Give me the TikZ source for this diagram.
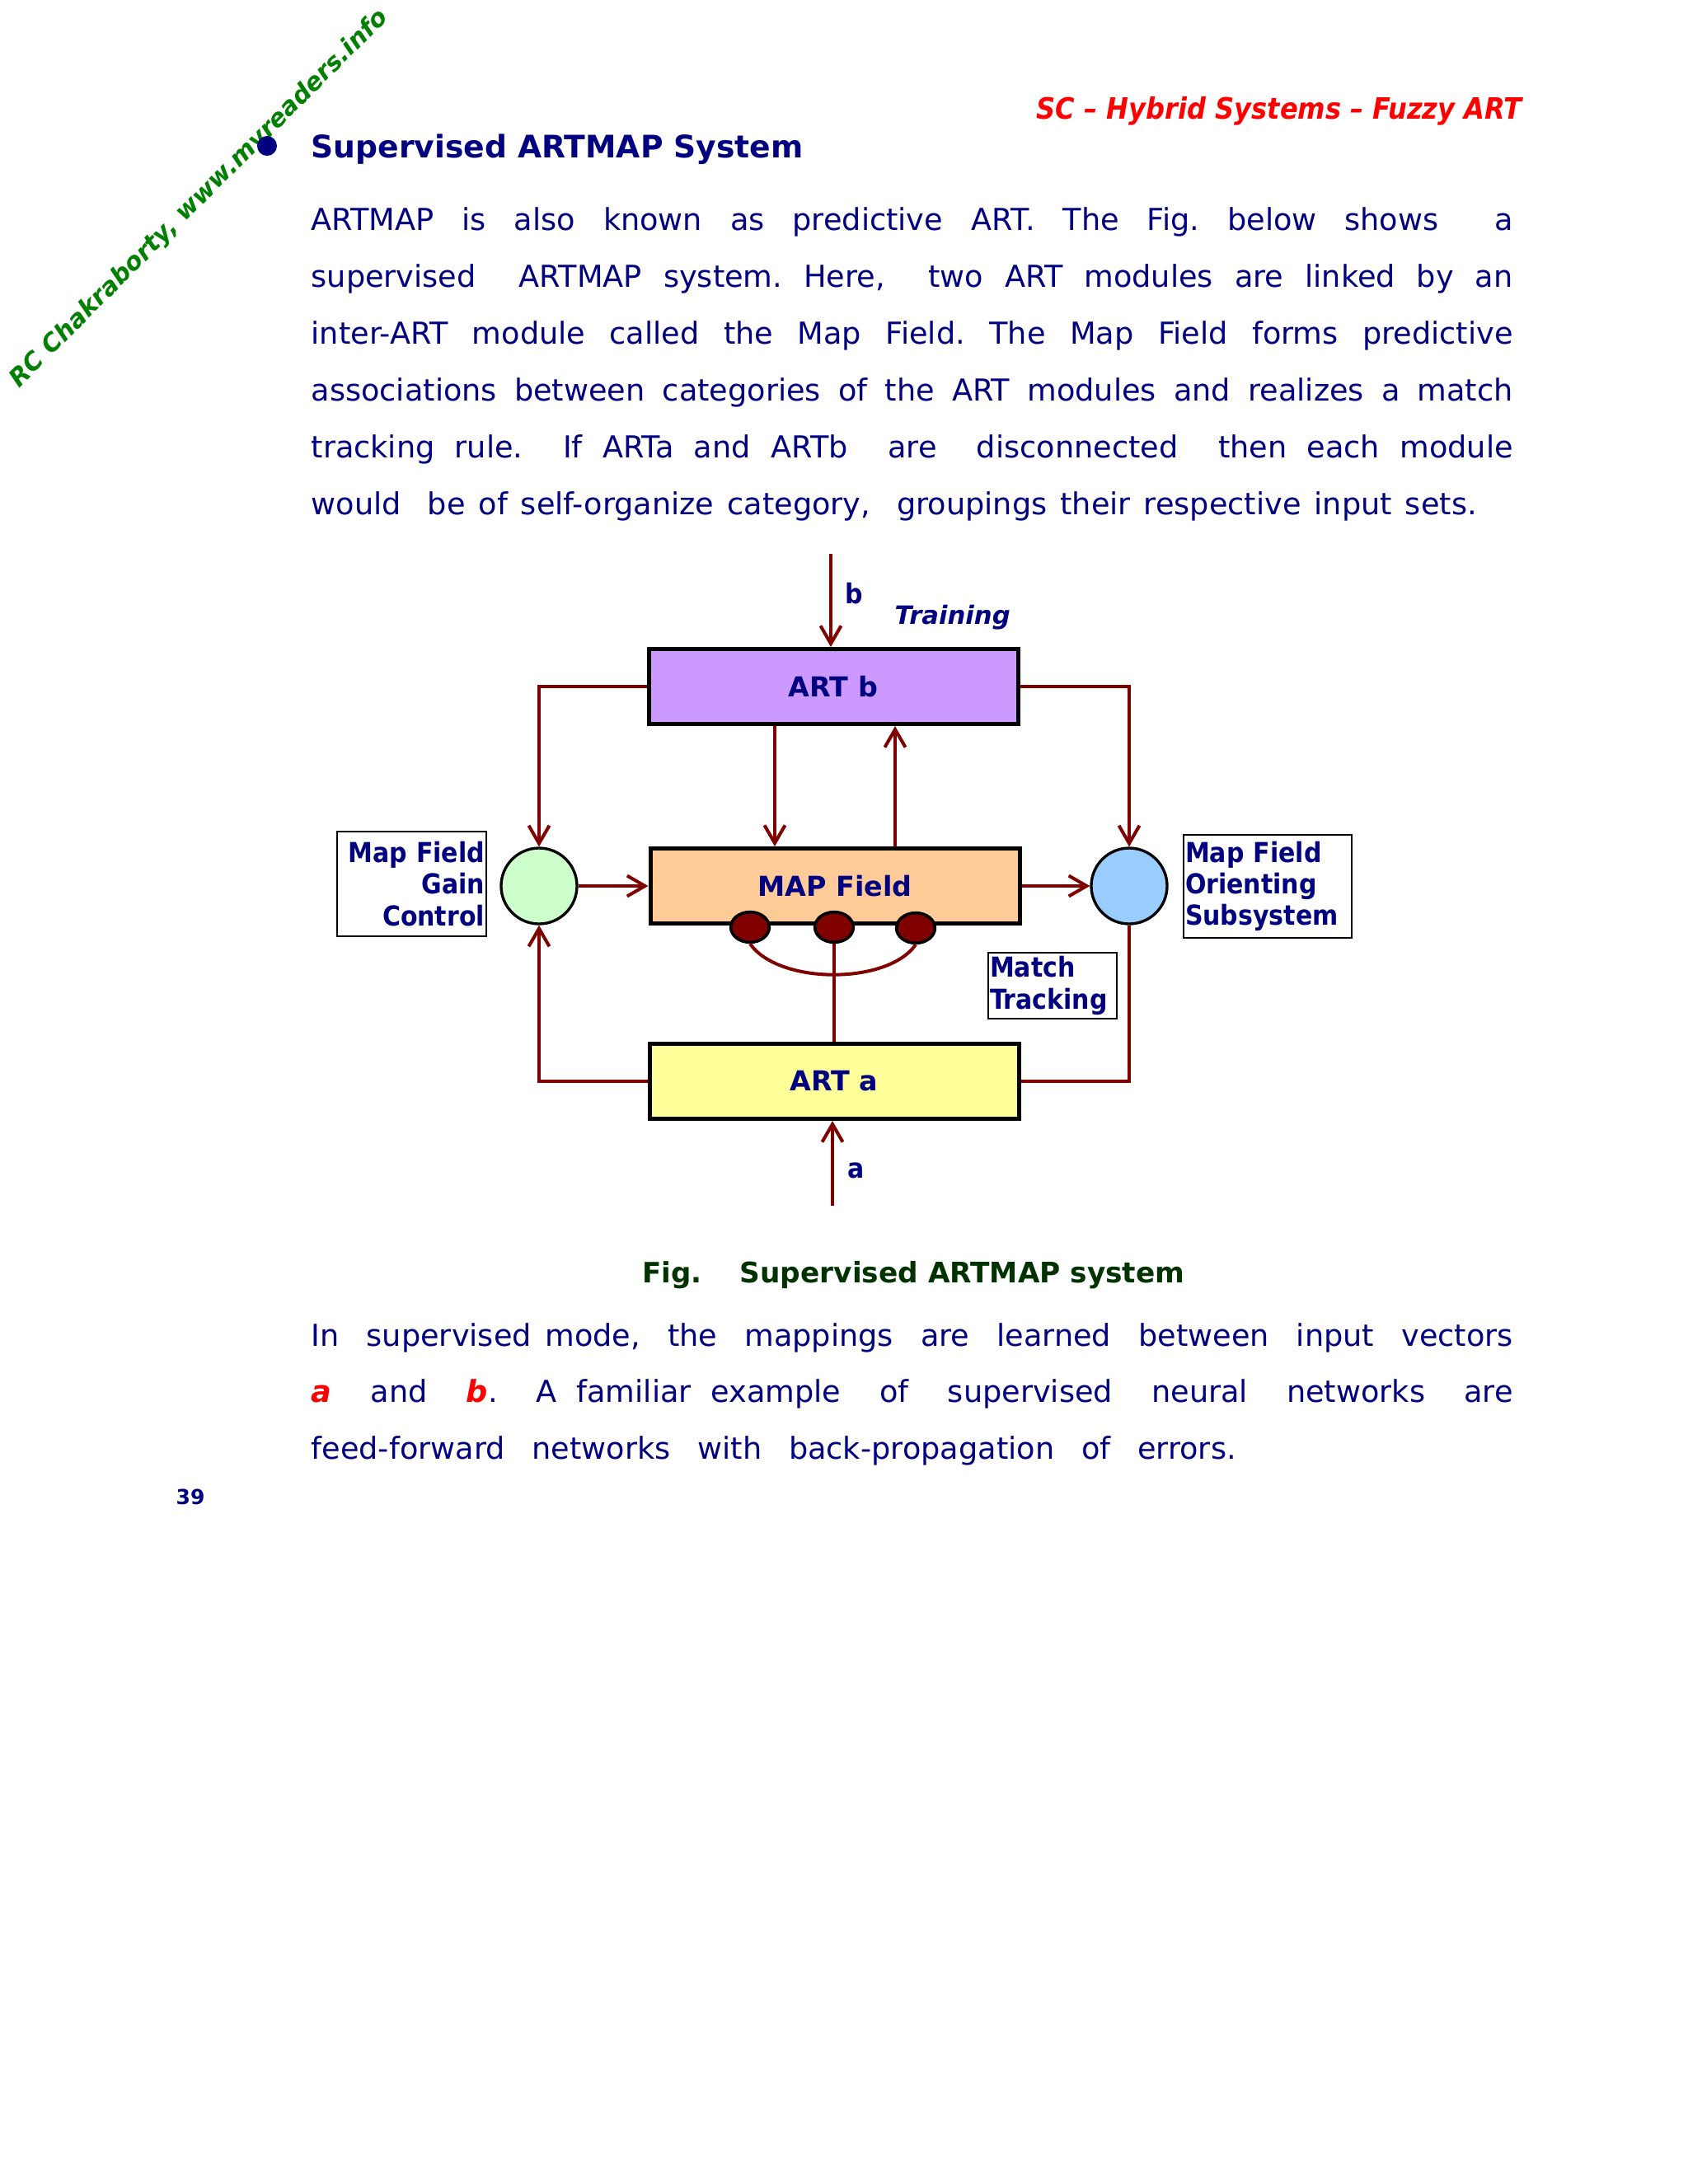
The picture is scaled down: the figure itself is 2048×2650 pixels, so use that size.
\documentclass[tikz,border=0pt]{standalone}
\usepackage{fontspec}
\setmainfont{DejaVu Sans}
\newfontfamily\condfont{DejaVu Sans Condensed}
\usetikzlibrary{arrows.meta,shapes.geometric}
\definecolor{navy}{HTML}{000080}
\definecolor{dred}{HTML}{800000}
\definecolor{wmgreen}{HTML}{008000}
\definecolor{capgreen}{HTML}{003300}
\definecolor{fillb}{HTML}{CC99FF}
\definecolor{fillmap}{HTML}{FFCC99}
\definecolor{filla}{HTML}{FFFF99}
\definecolor{fillgc}{HTML}{CCFFCC}
\definecolor{fillos}{HTML}{99CCFF}
\newcommand\jline[2][437.4pt]{\makebox[#1][s]{#2}}
\newcommand\redab[1]{{\color{red}\bfseries\itshape #1}}
\frenchspacing
\begin{document}
\begin{tikzpicture}[x=0.3pt,y=-0.3pt,
  bodytext/.style={anchor=base west,inner sep=0pt,text=navy,font=\fontsize{11}{13}\selectfont},
  box/.style={draw=black,line width=1.5pt,minimum width=134.4pt,minimum height=27.3pt,inner sep=0pt,
    font=\fontsize{10}{12}\selectfont\bfseries,text=navy},
  sumcirc/.style={circle,draw=black,line width=1pt,minimum size=27.6pt,inner sep=0pt},
  labelbox/.style={draw=black,line width=0.6pt,inner xsep=0.6pt,inner ysep=0pt,
    font=\condfont\fontsize{10}{11.5}\selectfont\bfseries,text=navy},
  dotnode/.style={ellipse,draw=black,line width=1.1pt,fill=dred,minimum width=14pt,minimum height=11pt,inner sep=0pt},
  conn/.style={draw=dred,line width=1.2pt},
  arr/.style={conn,-{Straight Barb[length=6.5pt,width=7.5pt]}},
  difont/.style={inner sep=0pt,text=navy,font=\condfont\fontsize{10}{12}\selectfont\bfseries}]
\fill[white] (0,0) rectangle (2048,2650);
\useasboundingbox (0,0) rectangle (2048,2650);

% watermark
\node[rotate=45,inner sep=0pt,text=wmgreen,font=\fontsize{9}{11}\selectfont\bfseries\itshape] (wm) at (242,241) {RC Chakraborty, www.myreaders.info};

% header
\node[anchor=base east,inner sep=0pt,text=red,font=\condfont\fontsize{10.7}{12}\selectfont\bfseries\itshape] (hdr) at (1847,144) {SC – Hybrid Systems – Fuzzy ART};

% heading
\fill[navy] (324,177) circle (3.6pt);
\node[anchor=base west,inner sep=0pt,text=navy,font=\fontsize{11.3}{13}\selectfont\bfseries] (head) at (377,191) {Supervised ARTMAP System};

% paragraph 1
\node[bodytext] (p1) at (377,279) {\jline{ARTMAP is also known as predictive ART. The Fig. below shows \ a}};
\node[bodytext] (p2) at (377,348) {\jline{supervised \ ARTMAP system. Here, \ two ART modules are linked by an}};
\node[bodytext] (p3) at (377,417) {\jline{inter-ART module called the Map Field. The Map Field forms predictive}};
\node[bodytext] (p4) at (377,486) {\jline{associations between categories of the ART modules and realizes a match}};
\node[bodytext] (p5) at (377,555) {\jline{tracking rule. \ If ARTa and ARTb \ are \ disconnected \ then each module}};
\node[bodytext] (p6) at (377,624) {\jline[424.2pt]{would \ be of self-organize category, \ groupings their respective input sets.}};

% diagram
\node[box,fill=fillb] (artb) at (1011,833) {ART b};
\node[box,fill=fillmap] (map) at (1013,1075) {MAP Field};
\node[box,fill=filla] (arta) at (1012,1312) {ART a};
\node[sumcirc,fill=fillgc] (gc) at (654,1075) {};
\node[sumcirc,fill=fillos] (os) at (1370,1075) {};

\node[labelbox,minimum width=54.3pt,minimum height=38.1pt,text width=53.1pt,align=right] (gcl) at (499.5,1072.5) {Map Field\\Gain\\Control};
\node[labelbox,minimum width=61.2pt,minimum height=37.5pt,text width=60pt,align=left] (osl) at (1538,1075.5) {Map Field\\Orienting\\Subsystem};
\node[labelbox,minimum width=46.8pt,minimum height=24pt,text width=45.6pt,align=left] (mtl) at (1277,1196) {Match\\Tracking};

\coordinate (bin) at (1008,672);
\coordinate (ain) at (1010,1463);
\coordinate (cdown) at (940,0);
\coordinate (cup) at (1086,0);

\draw[arr] (bin) -- (bin |- artb.north);
\node[difont,anchor=base west] (blab) at (1025,732) {b};
\node[anchor=base west,inner sep=0pt,text=navy,font=\fontsize{9.2}{11}\selectfont\bfseries\itshape] (train) at (1085,757) {Training};

\draw[arr] (artb.west) -| (gc.north);
\draw[arr] (artb.east) -| (os.north);
\draw[arr] (artb.south -| cdown) -- (map.north -| cdown);
\draw[arr] (map.north -| cup) -- (artb.south -| cup);
\draw[arr] (gc.east) -- (map.west);
\draw[arr] (map.east) -- (os.west);
\draw[arr] (arta.west) -| (gc.south);
\draw[conn] (arta.east) -| (os.south);
\draw[arr] (ain) -- (ain |- arta.south);
\node[difont,anchor=base west] (alab) at (1028,1429) {a};

\node[dotnode] (d1) at (910,1125) {};
\node[dotnode] (d2) at (1012,1125) {};
\node[dotnode] (d3) at (1111,1126) {};
\draw[conn] (d1.south) .. controls (945,1195) and (1077,1195) .. (d3.south);
\draw[conn] (d2.south) -- (arta.north);

% caption
\node[anchor=base west,inner sep=0pt,text=capgreen,font=\fontsize{10.2}{12}\selectfont\bfseries] (figlbl) at (779,1556) {Fig.};
\node[anchor=base west,inner sep=0pt,text=capgreen,font=\fontsize{10.3}{12}\selectfont\bfseries] (cap) at (897,1556) {Supervised ARTMAP system};

% paragraph 2
\node[bodytext] (q1) at (377,1633) {\jline{In \ supervised mode, \ the \ mappings \ are \ learned \ between \ input \ vectors}};
\node[bodytext] (q2) at (377,1701) {\jline{\redab{a} \ and \ \redab{b}. \ A familiar example \ of \ supervised \ neural \ networks \ are}};
\node[bodytext] (q3) at (377,1770) {\jline[336.6pt]{feed-forward \ networks \ with \ back-propagation \ of \ errors.}};

% page number
\node[anchor=base west,inner sep=0pt,text=navy,font=\fontsize{7.5}{9}\selectfont\bfseries] (pg) at (213,1825) {39};
\end{tikzpicture}
\end{document}
